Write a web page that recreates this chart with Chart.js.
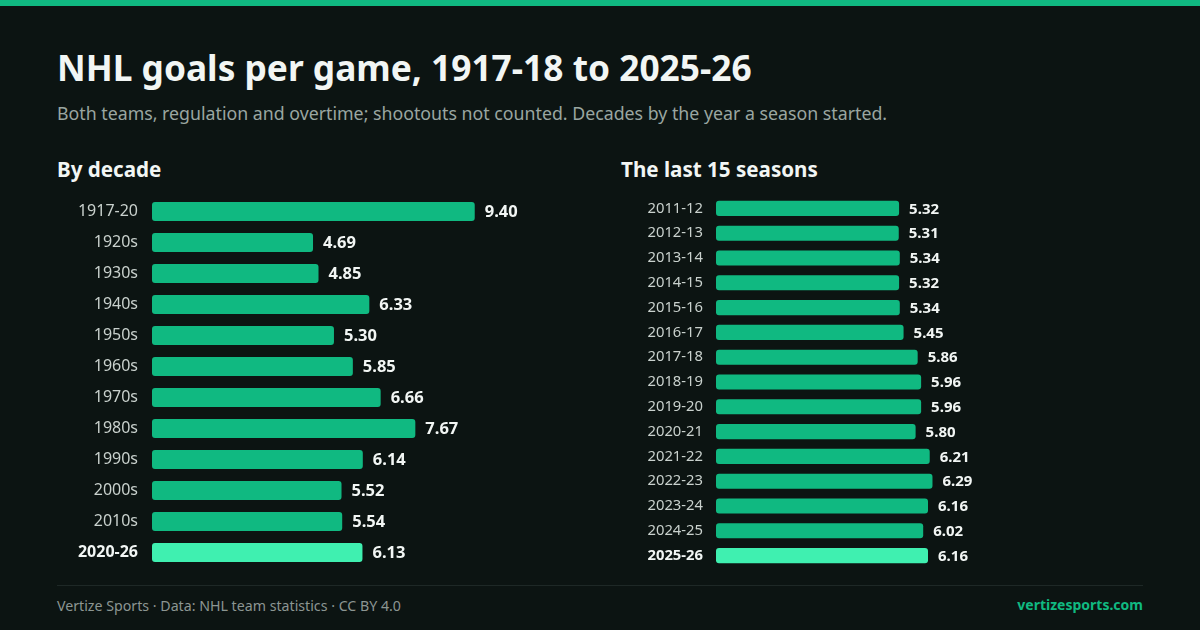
<!DOCTYPE html>
<html><head><meta charset="utf-8">
<script src="https://cdn.jsdelivr.net/npm/chart.js@4.4.1/dist/chart.umd.min.js"></script>
<style>
html,body{margin:0;padding:0;background:#0c1412;width:1200px;height:630px;overflow:hidden;font-family:"Noto Sans",sans-serif;}
#top{position:absolute;left:0;top:0;width:1200px;height:6px;background:#10b981;}
.t{position:absolute;white-space:nowrap;}
#title{left:57px;top:43px;font-size:35.3px;font-weight:700;color:#f2f6f4;}
#sub{left:57px;top:101px;font-size:17.75px;color:#9aa6a1;}
.h{top:155px;font-size:20.6px;font-weight:700;color:#f2f6f4;}
#h1{left:57px;} #h2{left:621px;}
#rule{position:absolute;left:57px;top:585px;width:1086px;height:1px;background:#1e2826;}
#foot{left:57px;top:596px;font-size:14.2px;color:#8c9692;}
#site{right:57px;top:595px;font-size:14px;font-weight:700;color:#10b981;}
canvas{position:absolute;}
</style></head><body>
<div id="top"></div>
<div class="t" id="title">NHL goals per game, 1917-18 to 2025-26</div>
<div class="t" id="sub">Both teams, regulation and overtime; shootouts not counted. Decades by the year a season started.</div>
<div class="t h" id="h1">By decade</div>
<div class="t h" id="h2">The last 15 seasons</div>
<canvas id="c1" width="524" height="372" style="left:40px;top:196px;width:524px;height:372px;"></canvas>
<canvas id="c2" width="529" height="372" style="left:600px;top:196px;width:529px;height:372px;"></canvas>
<div id="rule"></div>
<div class="t" id="foot">Vertize Sports · Data: NHL team statistics · CC BY 4.0</div>
<div class="t" id="site">vertizesports.com</div>
<script>
const decadeLabels = ["1917-20","1920s","1930s","1940s","1950s","1960s","1970s","1980s","1990s","2000s","2010s","2020-26"];
const decadeValues = [9.40,4.69,4.85,6.33,5.30,5.85,6.66,7.67,6.14,5.52,5.54,6.13];
const seasonLabels = ["2011-12","2012-13","2013-14","2014-15","2015-16","2016-17","2017-18","2018-19","2019-20","2020-21","2021-22","2022-23","2023-24","2024-25","2025-26"];
const seasonValues = [5.32,5.31,5.34,5.32,5.34,5.45,5.86,5.96,5.96,5.80,6.21,6.29,6.16,6.02,6.16];

const BASE = "#10b981", HI = "#3ff0b0";

const valueLabels = {
  id: "valueLabels",
  afterDatasetsDraw(chart, args, opts) {
    const ctx = chart.ctx;
    const meta = chart.getDatasetMeta(0);
    const data = chart.data.datasets[0].data;
    ctx.save();
    ctx.font = "700 " + opts.size + "px 'Noto Sans'";
    ctx.fillStyle = "#f2f6f4";
    ctx.textBaseline = "middle";
    ctx.textAlign = "left";
    meta.data.forEach((bar, i) => {
      ctx.fillText(data[i].toFixed(2), bar.x + 10, bar.y + 1);
    });
    ctx.restore();
  }
};

function make(id, labels, values, axisW, fontSize, valSize, pad) {
  const last = labels.length - 1;
  return new Chart(document.getElementById(id), {
    type: "bar",
    data: { labels, datasets: [{ data: values,
      backgroundColor: values.map((v, i) => i === last ? HI : BASE),
      borderRadius: 3, borderSkipped: false,
      categoryPercentage: 1, barPercentage: 0.61 }] },
    options: {
      indexAxis: "y", responsive: false, animation: false,
      layout: { padding: 0, autoPadding: false },
      plugins: { legend: { display: false }, tooltip: { enabled: false },
        valueLabels: { size: valSize } },
      scales: {
        x: { display: false, min: 0, max: 12 },
        y: { grid: { display: false, drawTicks: false }, border: { display: false },
          afterFit(s) { s.width = axisW; s.paddingTop = 0; s.paddingBottom = 0; },
          ticks: { padding: pad,
            color: c => c.index === last ? "#f2f6f4" : "#c9d1cd",
            font: c => ({ family: "'Noto Sans'", size: fontSize, weight: c.index === last ? "700" : "400" }) } }
      }
    },
    plugins: [valueLabels]
  });
}
make("c1", decadeLabels, decadeValues, 112, 16, 16.5, 14);
make("c2", seasonLabels, seasonValues, 116, 14.8, 15, 13);
</script>
</body></html>
